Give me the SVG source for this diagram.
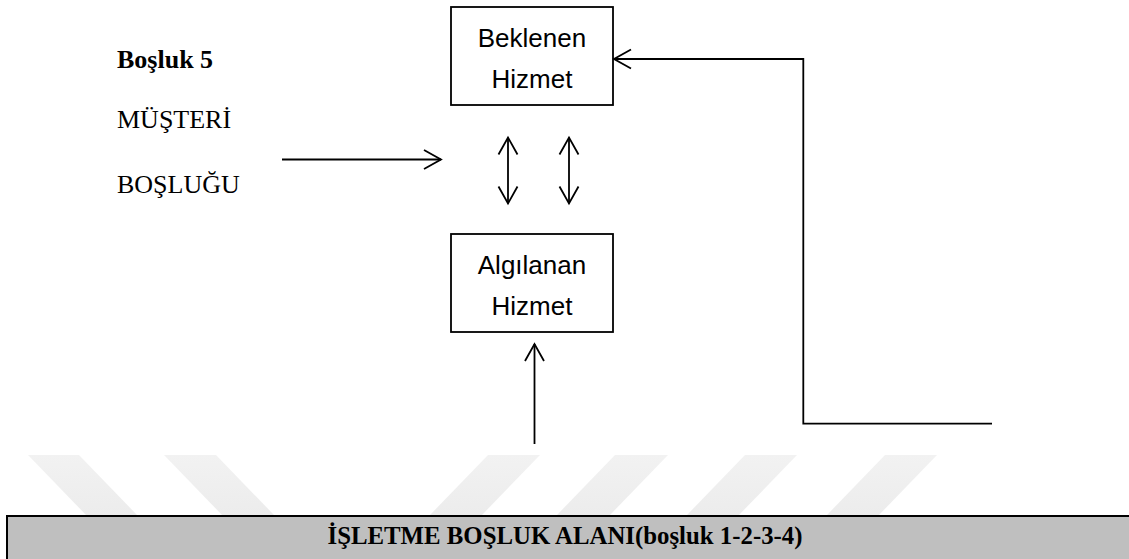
<svg xmlns="http://www.w3.org/2000/svg" width="1129" height="559" viewBox="0 0 1129 559">
  <defs>
    <style>
      .box { fill: #ffffff; stroke: #000000; stroke-width: 1.8; }
      .boxtxt { font-family: "Liberation Sans", Arial, sans-serif; font-size: 26px; fill: #000000; text-anchor: middle; }
      .lbl { font-family: "Liberation Serif", "Times New Roman", serif; font-size: 26px; fill: #000000; }
      .bold { font-weight: bold; }
      .wire { fill: none; stroke: #000000; stroke-width: 1.8; }
      .mark { fill: url(#markFade); }
    </style>
    <linearGradient id="markFade" x1="0" y1="455" x2="0" y2="515" gradientUnits="userSpaceOnUse">
      <stop offset="0" stop-color="#f2f2f2"/>
      <stop offset="1" stop-color="#ececec"/>
    </linearGradient>
    <marker id="chev" markerUnits="userSpaceOnUse" viewBox="-20 -12 24 24" markerWidth="24" markerHeight="24" refX="0" refY="0" orient="auto-start-reverse">
      <path d="M-17,-9.5 L0,0 L-17,9.5" fill="none" stroke="#000000" stroke-width="1.8"/>
    </marker>
  </defs>

  <rect width="1129" height="559" fill="#ffffff"/>

  <!-- faint background stripes -->
  <g id="backdrop">
    <polygon class="mark" points="28,455 79,455 137,515 86,515"/>
    <polygon class="mark" points="164,455 216,455 274,515 222,515"/>
    <polygon class="mark" points="488,455 540,455 482,515 430,515"/>
    <polygon class="mark" points="615,455 668,455 610,515 557,515"/>
    <polygon class="mark" points="745,455 797,455 739,515 687,515"/>
    <polygon class="mark" points="885,455 937,455 879,515 827,515"/>
  </g>

  <!-- side labels -->
  <g id="labels">
    <text class="lbl bold" x="117" y="68">Boşluk 5</text>
    <text class="lbl" x="117" y="128">MÜŞTERİ</text>
    <text class="lbl" x="117" y="193">BOŞLUĞU</text>
  </g>

  <g id="beklenen">
    <rect class="box" x="451" y="7" width="162" height="98"/>
    <text class="boxtxt" x="532" y="47">Beklenen</text>
    <text class="boxtxt" x="532" y="88">Hizmet</text>
  </g>

  <g id="algilanan">
    <rect class="box" x="451" y="234" width="162" height="98"/>
    <text class="boxtxt" x="532" y="274">Algılanan</text>
    <text class="boxtxt" x="532" y="315">Hizmet</text>
  </g>

  <g id="connectors">
    <line class="wire" x1="282" y1="159.5" x2="441" y2="159.5" marker-end="url(#chev)"/>
    <line class="wire" x1="508" y1="137.5" x2="508" y2="203.5" marker-start="url(#chev)" marker-end="url(#chev)"/>
    <line class="wire" x1="569" y1="137.5" x2="569" y2="203.5" marker-start="url(#chev)" marker-end="url(#chev)"/>
    <line class="wire" x1="534.5" y1="444" x2="534.5" y2="344" marker-end="url(#chev)"/>
    <polyline class="wire" points="992,423.7 803.3,423.7 803.3,59 614,59" marker-end="url(#chev)"/>
  </g>

  <g id="isletme">
    <rect x="7" y="516" width="1130" height="60" fill="#bfbfbf" stroke="#000000" stroke-width="2"/>
    <text class="lbl bold" x="565" y="544" font-size="30" text-anchor="middle" textLength="475" lengthAdjust="spacingAndGlyphs">İŞLETME BOŞLUK ALANI(boşluk 1-2-3-4)</text>
  </g>
</svg>
